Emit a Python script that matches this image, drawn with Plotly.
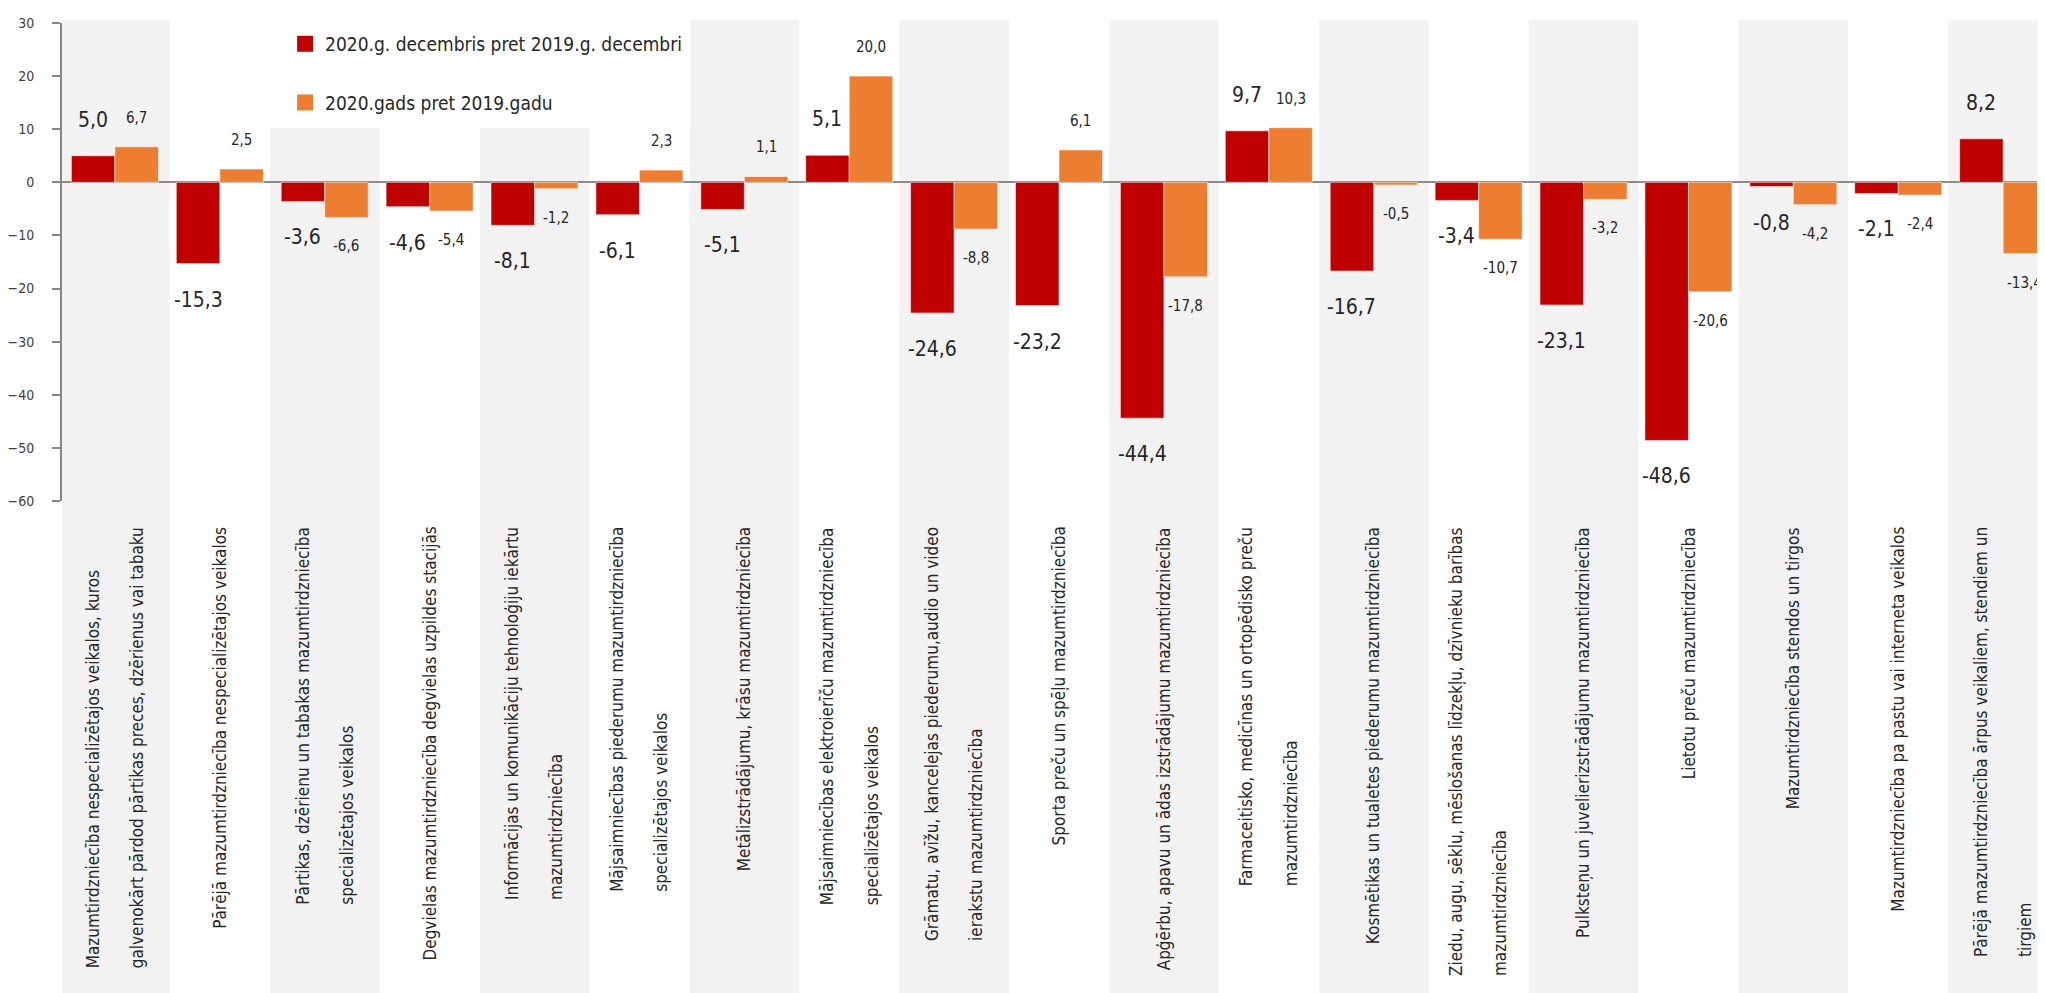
import plotly.graph_objects as go

FONT = "DejaVu Sans Condensed, Liberation Sans Narrow, sans-serif"

categories = [
    "Mazumtirdzniecība nespecializētajos veikalos, kuros<br><br>galvenokārt pārdod pārtikas preces, dzērienus vai tabaku",
    "Pārējā mazumtirdzniecība nespecializētajos veikalos",
    "Pārtikas, dzērienu un tabakas mazumtirdzniecība<br><br>specializētajos veikalos",
    "Degvielas mazumtirdzniecība degvielas uzpildes stacijās",
    "Informācijas un komunikāciju tehnoloģiju iekārtu<br><br>mazumtirdzniecība",
    "Mājsaimniecības piederumu mazumtirdzniecība<br><br>specializētajos veikalos",
    "Metālizstrādājumu, krāsu mazumtirdzniecība",
    "Mājsaimniecības elektroierīču mazumtirdzniecība<br><br>specializētajos veikalos",
    "Grāmatu, avīžu, kancelejas piederumu,audio un video<br><br>ierakstu mazumtirdzniecība",
    "Sporta preču un spēļu mazumtirdzniecība",
    "Apģērbu, apavu un ādas izstrādājumu mazumtirdzniecība",
    "Farmaceitisko, medicīnas un ortopēdisko preču<br><br>mazumtirdzniecība",
    "Kosmētikas un tualetes piederumu mazumtirdzniecība",
    "Ziedu, augu, sēklu, mēslošanas līdzekļu, dzīvnieku barības<br><br>mazumtirdzniecība",
    "Pulksteņu un juvelierizstrādājumu mazumtirdzniecība",
    "Lietotu preču mazumtirdzniecība",
    "Mazumtirdzniecība stendos un tirgos",
    "Mazumtirdzniecība pa pastu vai interneta veikalos",
    "Pārējā mazumtirdzniecība ārpus veikaliem, stendiem un<br><br>tirgiem",
]

dec_vs_dec = [5.0, -15.3, -3.6, -4.6, -8.1, -6.1, -5.1, 5.1, -24.6, -23.2,
              -44.4, 9.7, -16.7, -3.4, -23.1, -48.6, -0.8, -2.1, 8.2]
year_vs_year = [6.7, 2.5, -6.6, -5.4, -1.2, 2.3, 1.1, 20.0, -8.8, 6.1,
                -17.8, 10.3, -0.5, -10.7, -3.2, -20.6, -4.2, -2.4, -13.4]

series_names = ["2020.g. decembris pret 2019.g. decembri", "2020.gads pret 2019.gadu"]
colors = ["#C00000", "#ED7D31"]

x = list(range(len(categories)))
half = 0.2075  # half of the bar width, bars sit either side of the category centre


def fmt(v):
    return f"{v:.1f}".replace(".", ",")


fig = go.Figure()

for vals, name, col in zip([dec_vs_dec, year_vs_year], series_names, colors):
    fig.add_trace(go.Bar(x=x, y=vals, name=name, marker_color=col,
                         marker_line=dict(color="rgba(255,255,255,0.55)", width=1),
                         showlegend=False))
    # legend entries with bigger square swatches
    fig.add_trace(go.Scatter(x=[None], y=[None], mode="markers", name=name,
                             marker=dict(symbol="square", size=20, color=col),
                             legendgroup=name))

# alternating grey bands behind every second category
for i in x[::2]:
    fig.add_shape(type="rect", xref="x", yref="paper", x0=i - 0.5225, x1=i + 0.5225,
                  y0=-1.05, y1=1.006, fillcolor="#F2F2F2", line_width=0, layer="below")
# white area behind the legend
fig.add_shape(type="rect", xref="paper", yref="paper", x0=0.105, x1=0.317,
              y0=0.780, y1=1.06, fillcolor="white", line_width=0, layer="below")

# value labels
for vals, dx, size, gap in [(dec_vs_dec, -half, 21, 36), (year_vs_year, half, 15, 29)]:
    for i, v in zip(x, vals):
        fig.add_annotation(x=i + dx, y=v, text=fmt(v), showarrow=False,
                           yshift=gap if v >= 0 else -gap, yanchor="middle",
                           font=dict(family=FONT, size=size, color="#262626"))

# category labels, rotated
for i, lab in zip(x, categories):
    fig.add_annotation(x=i, xref="x", y=-0.05, yref="paper", text=lab, showarrow=False,
                       textangle=-90, align="left", xanchor="center", yanchor="top",
                       font=dict(family=FONT, size=17, color="#262626"))

# the page body keeps its default 8px margin, so the figure is sized to fit the window
fig.update_layout(
    width=2037, height=985,
    margin=dict(l=51, r=0, t=14.7, b=492, pad=0),
    plot_bgcolor="rgba(0,0,0,0)", paper_bgcolor="white",
    barmode="group", bargap=0.17, bargroupgap=0,
    font=dict(family=FONT, color="#404040"),
    legend=dict(x=0.1125, y=0.996, xanchor="left", yanchor="top",
                font=dict(family=FONT, size=19, color="#262626"),
                bgcolor="rgba(0,0,0,0)", tracegroupgap=31),
)
fig.update_xaxes(range=[-0.5045, 18.399], showticklabels=False, showgrid=False,
                 zeroline=False, showline=False, ticks="")
fig.update_yaxes(range=[-60, 30], dtick=10, showgrid=False, ticks="outside",
                 ticklen=8, tickcolor="#868686", tickwidth=1.5,
                 showline=True, linecolor="#868686", linewidth=2,
                 zeroline=True, zerolinecolor="#8C8C8C", zerolinewidth=1.5,
                 tickfont=dict(family=FONT, size=14, color="#404040"),
                 ticklabelstandoff=15)

fig.write_html("out.html")
